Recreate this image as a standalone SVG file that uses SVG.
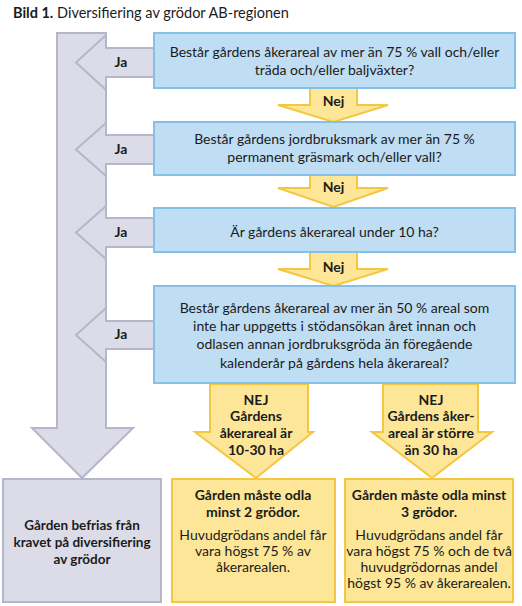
<svg xmlns="http://www.w3.org/2000/svg" width="522" height="606" viewBox="0 0 522 606">
<style>
text{font-family:Lato,"Open Sans","Liberation Sans",sans-serif;fill:#1b1b1b;text-anchor:middle;font-size:14px}
.b{font-weight:bold}
.s{font-size:13.5px}
.q{fill:#BFDDF3;stroke:#86C0E8;stroke-width:2}
.g{fill:#DCDCE8;stroke:#B6B6CA;stroke-width:2}
.y{fill:#FDE697;stroke:#F4C740;stroke-width:2}
</style>
<rect width="522" height="606" fill="#fff"/>
<text x="13" y="18" style="text-anchor:start;font-size:14.5px"><tspan class="b">Bild 1.</tspan> Diversifiering av grödor AB-regionen</text>
<g id="connectors">
<polygon class="g" points="57,33 106,33 106,428 133,428 82,478 32,428 57,428"/>
<polygon class="g" points="160,48 106,48 106,35 76,62.5 106,90 106,77 160,77"/>
<polygon class="g" points="160,135 106,135 106,123 76,149.5 106,176 106,164 160,164"/>
<polygon class="g" points="160,218 106,218 106,206 76,232.5 106,259 106,247 160,247"/>
<polygon class="g" points="160,321 106,321 106,308 76,335 106,362 106,349 160,349"/>
<polygon class="y" points="310,86 357,86 357,105 388,105 333.5,122 278,105 310,105"/>
<polygon class="y" points="310,173 357,173 357,188 388,188 333.5,207 278,188 310,188"/>
<polygon class="y" points="310,250 357,250 357,269 388,269 333.5,286 278,269 310,269"/>
<polygon class="y" points="210,384 308,384 308,432 313,432 256,478 195,432 210,432"/>
<polygon class="y" points="383,384 478,384 478,432 492,432 432,478 372,432 383,432"/>
<text class="b" x="121" y="67">Ja</text>
<text class="b" x="121" y="154">Ja</text>
<text class="b" x="121" y="237">Ja</text>
<text class="b" x="121" y="339">Ja</text>
<text class="b" x="333.5" y="106">Nej</text>
<text class="b" x="333.5" y="192">Nej</text>
<text class="b" x="333.5" y="272">Nej</text>
<text class="b" x="256" y="405">NEJ</text>
<text class="b" x="256" y="421">Gårdens</text>
<text class="b" x="256" y="438">åkerareal är</text>
<text class="b" x="256" y="455">10-30 ha</text>
<text class="b" x="431" y="405">NEJ</text>
<text class="b" x="431" y="421">Gårdens åker-</text>
<text class="b" x="431" y="438">areal är större</text>
<text class="b" x="431" y="455">än 30 ha</text>
</g>
<g id="q1">
<rect class="q" x="154" y="33" width="361" height="55"/>
<text x="334.5" y="57">Består gårdens åkerareal av mer än 75 % vall och/eller</text>
<text x="334.5" y="75">träda och/eller  baljväxter?</text>
</g>
<g id="q2">
<rect class="q" x="154" y="122" width="361" height="53"/>
<text x="334.5" y="144">Består gårdens jordbruksmark av mer än 75 %</text>
<text x="334.5" y="162">permanent gräsmark och/eller vall?</text>
</g>
<g id="q3">
<rect class="q" x="154" y="208" width="361" height="44"/>
<text x="334.5" y="237">Är gårdens åkerareal under 10 ha?</text>
</g>
<g id="q4">
<rect class="q" x="154" y="286" width="361" height="97"/>
<text x="334.5" y="313">Består gårdens åkerareal av mer än 50 % areal som</text>
<text x="334.5" y="331">inte har uppgetts i stödansökan året innan och</text>
<text x="334.5" y="349">odlasen annan jordbruksgröda än föregående</text>
<text x="334.5" y="368">kalenderår på gårdens hela åkerareal?</text>
</g>
<g id="exempt">
<rect class="g" x="3" y="479" width="158" height="123"/>
<text class="b s" x="82" y="530">Gården befrias från</text>
<text class="b s" x="82" y="547">kravet på diversifiering</text>
<text class="b s" x="82" y="564">av grödor</text>
</g>
<g id="two-crops">
<rect class="y" x="172" y="479" width="163" height="123"/>
<text class="b" x="253" y="500">Gården måste odla</text>
<text class="b" x="253" y="517">minst 2 grödor.</text>
<text x="253" y="540">Huvudgrödans andel får</text>
<text x="253" y="556">vara högst 75 % av</text>
<text x="253" y="572">åkerarealen.</text>
</g>
<g id="three-crops">
<rect class="y" x="345" y="479" width="168" height="123"/>
<text class="b" x="429" y="500">Gården måste odla  minst</text>
<text class="b" x="429" y="517">3 grödor.</text>
<text x="429" y="540">Huvudgrödans andel får</text>
<text x="429" y="556">vara högst 75 % och de två</text>
<text x="429" y="572">huvudgrödornas andel</text>
<text x="429" y="588">högst 95 % av åkerarealen.</text>
</g>
</svg>
